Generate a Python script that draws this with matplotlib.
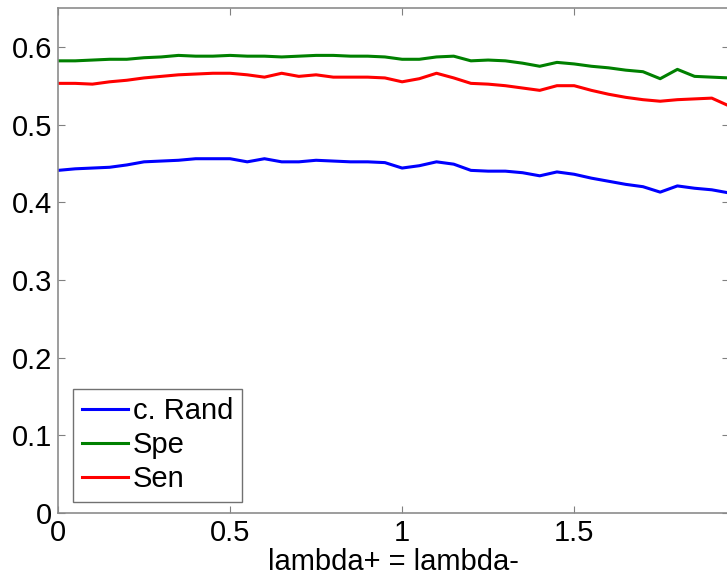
import numpy as np
import matplotlib.pyplot as plt

plt.rcParams['font.family'] = ['Liberation Sans', 'DejaVu Sans']

# lambda values (lambda+ = lambda-)
lambdas = [0.00, 0.05, 0.10, 0.15, 0.20, 0.25, 0.30, 0.35, 0.40, 0.45,
           0.50, 0.55, 0.60, 0.65, 0.70, 0.75, 0.80, 0.85, 0.90, 0.95,
           1.00, 1.05, 1.10, 1.15, 1.20, 1.25, 1.30, 1.35, 1.40, 1.45,
           1.50, 1.55, 1.60, 1.65, 1.70, 1.75, 1.80, 1.85, 1.90, 1.95]

c_rand = [0.441, 0.443, 0.444, 0.445, 0.448, 0.452, 0.453, 0.454, 0.456, 0.456,
          0.456, 0.452, 0.456, 0.452, 0.452, 0.454, 0.453, 0.452, 0.452, 0.451,
          0.444, 0.447, 0.452, 0.449, 0.441, 0.440, 0.440, 0.438, 0.434, 0.439,
          0.436, 0.431, 0.427, 0.423, 0.420, 0.413, 0.421, 0.418, 0.416, 0.412]

spe = [0.582, 0.582, 0.583, 0.584, 0.584, 0.586, 0.587, 0.589, 0.588, 0.588,
       0.589, 0.588, 0.588, 0.587, 0.588, 0.589, 0.589, 0.588, 0.588, 0.587,
       0.584, 0.584, 0.587, 0.588, 0.582, 0.583, 0.582, 0.579, 0.575, 0.580,
       0.578, 0.575, 0.573, 0.570, 0.568, 0.559, 0.571, 0.562, 0.561, 0.560]

sen = [0.553, 0.553, 0.552, 0.555, 0.557, 0.560, 0.562, 0.564, 0.565, 0.566,
       0.566, 0.564, 0.561, 0.566, 0.562, 0.564, 0.561, 0.561, 0.561, 0.560,
       0.555, 0.559, 0.566, 0.560, 0.553, 0.552, 0.550, 0.547, 0.544, 0.550,
       0.550, 0.544, 0.539, 0.535, 0.532, 0.530, 0.532, 0.533, 0.534, 0.524]

fig = plt.figure(figsize=(7.27, 5.8), dpi=100)
ax = fig.add_axes([58 / 727, 67 / 580, 671 / 727, 505 / 580])

ax.plot(lambdas, c_rand, color=(0, 0, 1), lw=2.2, label="c. Rand")
ax.plot(lambdas, spe, color=(0, 0.5, 0), lw=2.2, label="Spe")
ax.plot(lambdas, sen, color=(1, 0, 0), lw=2.2, label="Sen")

ax.set_xlim(0, 1.95)
ax.set_ylim(0, 0.65)
ax.set_xticks([0, 0.5, 1, 1.5])
ax.set_xticklabels(["0", "0.5", "1", "1.5"])
ax.set_yticks([0, 0.1, 0.2, 0.3, 0.4, 0.5, 0.6])
ax.set_yticklabels(["0", "0.1", "0.2", "0.3", "0.4", "0.5", "0.6"])
ax.tick_params(direction='in', length=5, width=0.8, color='0.5',
               top=True, right=True, labelsize=21, pad=4)
for s in ax.spines.values():
    s.set_color('0.55')
    s.set_linewidth(1.2)

ax.set_xlabel("lambda+ = lambda-", fontsize=21, labelpad=1)

leg = ax.legend(loc='lower left', bbox_to_anchor=(0.022, 0.022), fontsize=21,
                frameon=True, fancybox=False, handlelength=1.6,
                handletextpad=0.15, borderpad=0.3, labelspacing=0.2,
                borderaxespad=0)
leg.get_frame().set_edgecolor('0.3')
leg.get_frame().set_linewidth(1.0)

plt.savefig("out.png", dpi=100)
